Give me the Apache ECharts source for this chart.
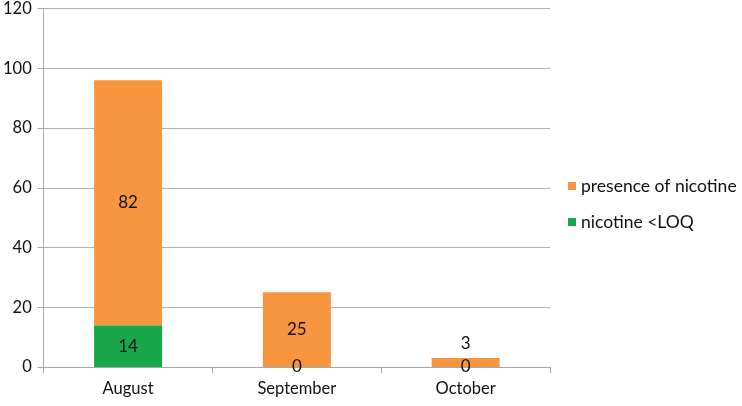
<!DOCTYPE html>
<html>
<head>
<meta charset="utf-8">
<script src="https://cdn.jsdelivr.net/npm/echarts@6/dist/echarts.min.js"></script>
<style>
  html, body { margin: 0; padding: 0; background: #fff; }
  #chart { width: 742px; height: 406px; }
</style>
</head>
<body>
<div id="chart"></div>
<script>
var months = ['August', 'September', 'October'];
var presence = [82, 25, 3];   // presence of nicotine
var belowLoq = [14, 0, 0];    // nicotine <LOQ
var yTicks = [0, 20, 40, 60, 80, 100, 120];

var chart = echarts.init(document.getElementById('chart'));

var labelStyle = {
  show: true,
  position: 'inside',
  color: '#111',
  fontSize: 17,
  fontFamily: 'Lato'
};

// small bars: the label goes above the bar
var presenceData = presence.map(function (v) {
  if (v < 5) {
    return { value: v, label: { position: 'top', distance: 6 } };
  }
  return v;
});

var option = {
  animation: false,
  textStyle: { fontFamily: 'Lato' },
  grid: { left: 43, right: 192, top: 7, bottom: 39 },
  legend: {
    orient: 'vertical',
    left: 563,
    top: 172,
    itemWidth: 8,
    itemHeight: 8,
    itemGap: 18,
    icon: 'rect',
    textStyle: { color: '#111', fontSize: 17.5, fontFamily: 'Lato' },
    data: ['presence of nicotine', 'nicotine <LOQ']
  },
  xAxis: {
    type: 'category',
    data: months,
    axisLine: { lineStyle: { color: '#a6a6a6' } },
    axisTick: { show: true, length: 6, lineStyle: { color: '#a6a6a6' } },
    axisLabel: { color: '#111', fontSize: 16.5, margin: 13 }
  },
  yAxis: {
    type: 'value',
    min: 0,
    max: 120,
    interval: 20,
    axisLine: { show: true, lineStyle: { color: '#a6a6a6' } },
    axisTick: { show: true, length: 6, lineStyle: { color: '#a6a6a6' } },
    axisLabel: { color: '#111', fontSize: 16.5, margin: 12 },
    splitLine: { lineStyle: { color: '#b0b0b0' } }
  },
  series: [
    {
      name: 'nicotine <LOQ',
      type: 'bar',
      stack: 'total',
      barWidth: 68,
      itemStyle: { color: '#1aa64b' },
      label: labelStyle,
      data: belowLoq
    },
    {
      name: 'presence of nicotine',
      type: 'bar',
      stack: 'total',
      barWidth: 68,
      itemStyle: { color: '#f8963f' },
      label: labelStyle,
      data: presenceData
    }
  ]
};

chart.setOption(option);
</script>
</body>
</html>
